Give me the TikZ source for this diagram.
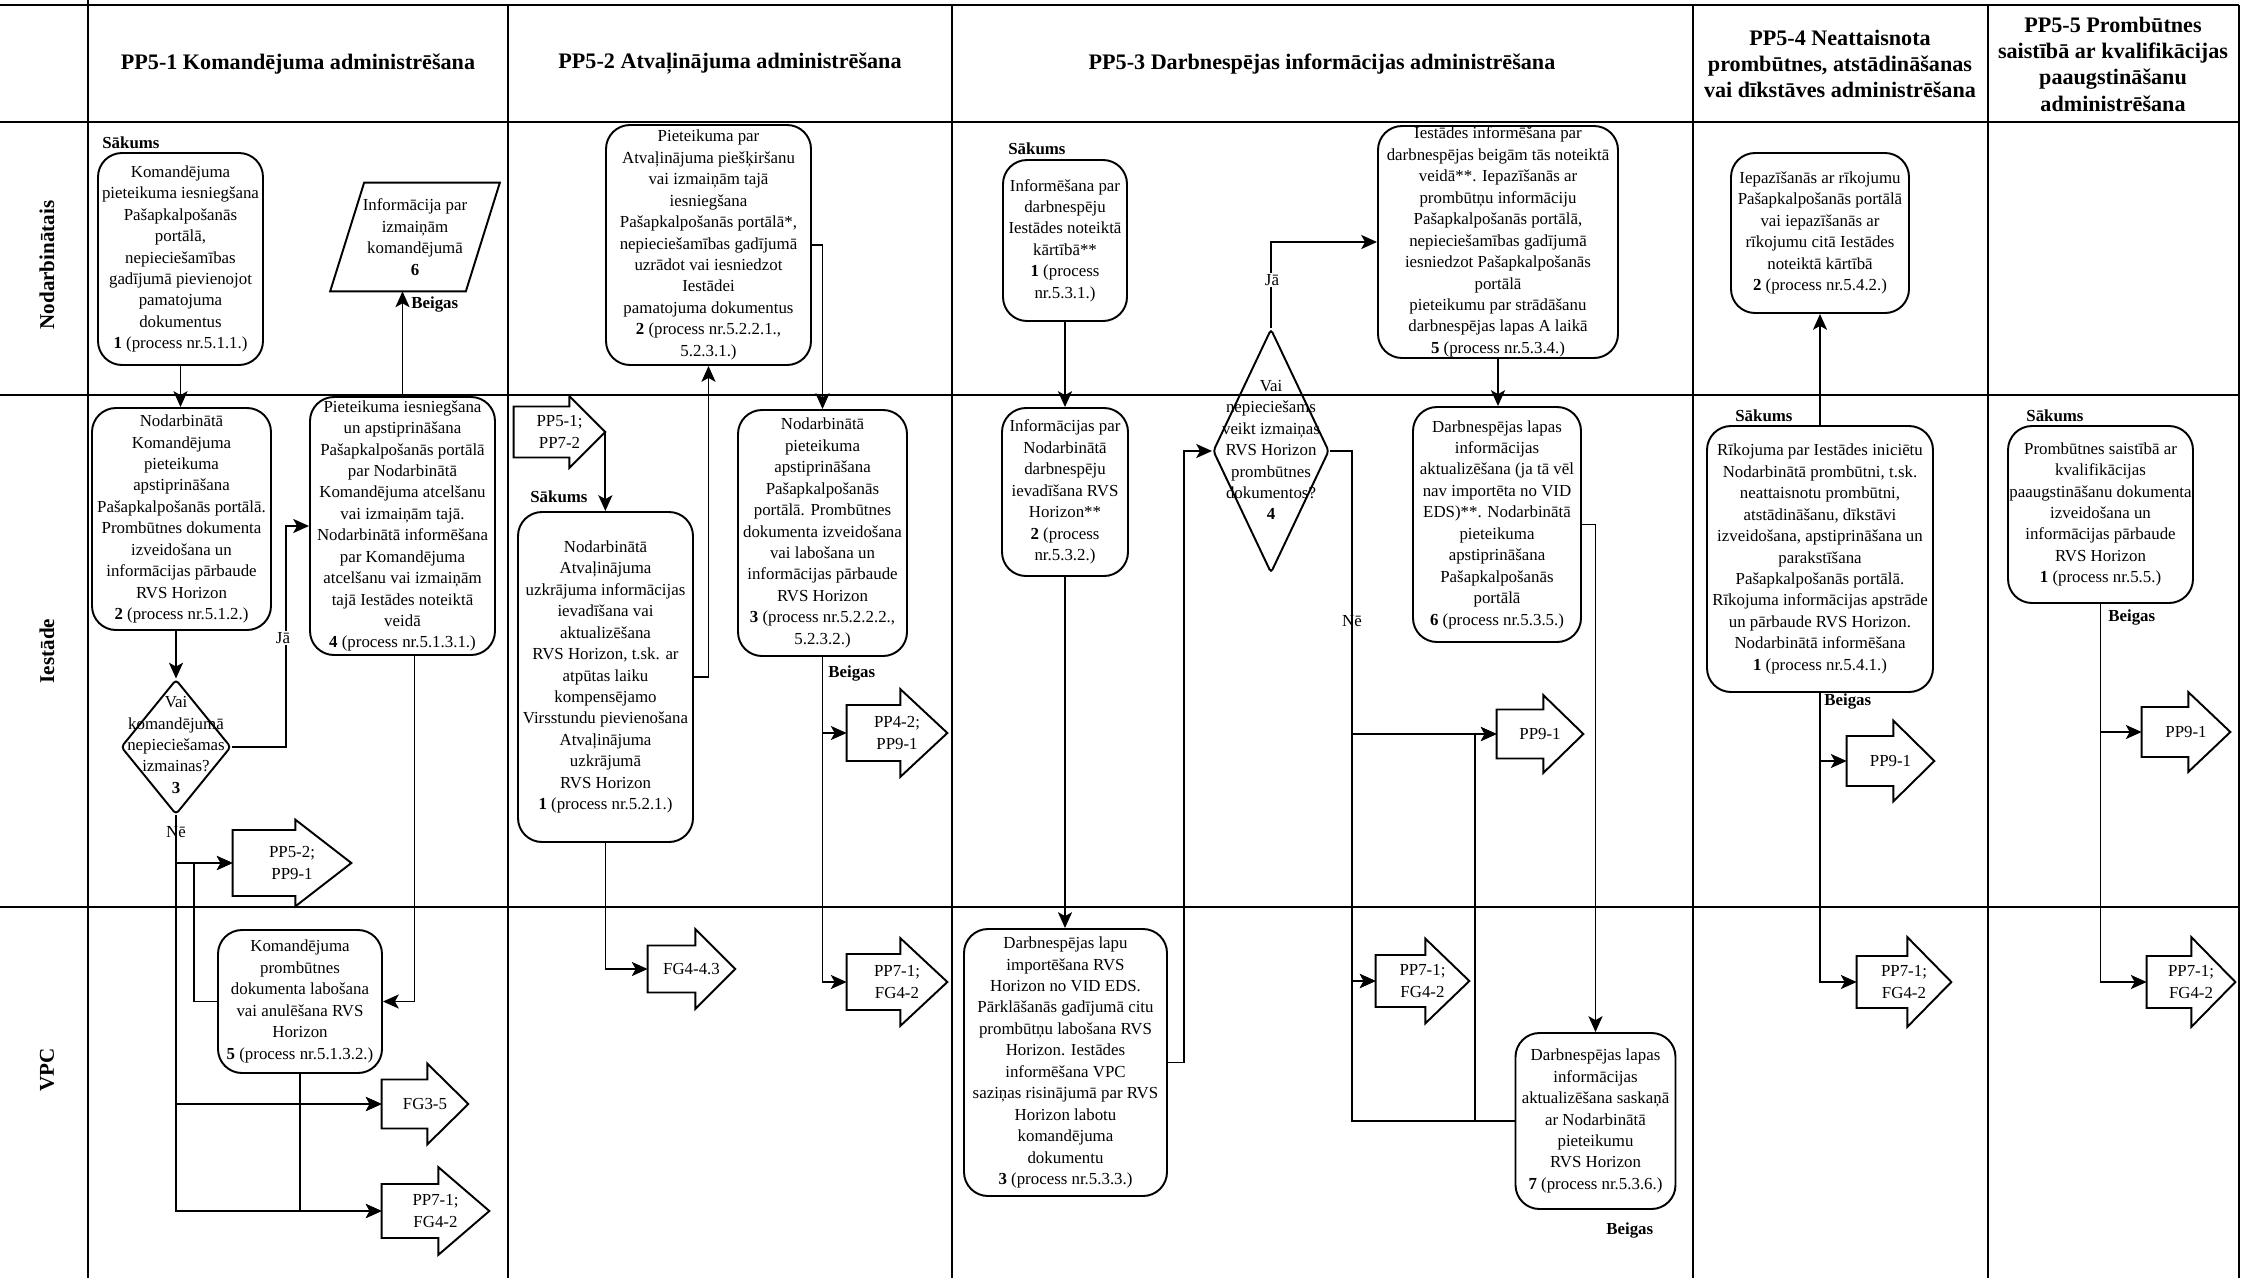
\documentclass[tikz,border=0pt]{standalone}
\usepackage{fontspec}
\setmainfont{Liberation Serif}
\usetikzlibrary{shapes.geometric,arrows.meta,calc}

\newcommand{\pxu}{0.02cm}
\newcommand{\bodyfont}{\fontsize{9.6pt}{12.2pt}\selectfont}
\newcommand{\headfont}{\fontsize{12.6pt}{15pt}\selectfont\bfseries}
\newcommand{\lanefont}{\fontsize{12pt}{14pt}\selectfont\bfseries}

% outline of an off-page arrow drawn round a named node
\newcommand{\offshape}[3]{%
  \draw[shapeline] ($(#1.west)+(0,-#2)$) -- ($(#1.east)+(-#3,-#2)$)
    -- ($(#1.north east)+(-#3,0)$) -- (#1.east)
    -- ($(#1.south east)+(-#3,0)$) -- ($(#1.east)+(-#3,#2)$)
    -- ($(#1.west)+(0,#2)$) -- cycle;}

\tikzset{
  laneline/.style={line width=1.1pt},
  shapeline/.style={line width=1.1pt, line join=miter},
  proc/.style 2 args={draw, line width=1.1pt, rounded corners=0.48cm, inner sep=0pt,
    align=center, font=\bodyfont, minimum width=#1*\pxu, minimum height=#2*\pxu},
  deci/.style 2 args={diamond, draw, line width=1.1pt, rounded corners=2pt, inner sep=0pt,
    minimum width=#1*\pxu, minimum height=#2*\pxu},
  offpage/.style 2 args={rectangle, inner sep=0pt, align=center, font=\bodyfont,
    minimum width=#1*\pxu, minimum height=#2*\pxu},
  txt/.style={align=center, font=\bodyfont, inner sep=0pt},
  colhead/.style={align=center, font=\headfont},
  lanelabel/.style={rotate=90, font=\lanefont},
  tag/.style={font=\bodyfont\bfseries, inner sep=0pt, anchor=west},
  yesno/.style={font=\bodyfont, inner sep=1pt},
  flow/.style={line width=1.1pt, -{Stealth[length=9pt, width=8pt, inset=2.2pt]}},
  link/.style={line width=1.1pt}
}

\begin{document}
\begin{tikzpicture}[x=0.02cm, y=-0.02cm]
    \useasboundingbox (0,0) rectangle (2242,1278);

    % Lanes and columns
    \draw[laneline] (0,5) -- (2239,5);
    \draw[laneline] (0,122) -- (2239,122);
    \draw[laneline] (0,395) -- (2239,395);
    \draw[laneline] (0,907) -- (2239,907);
    \draw[laneline] (88,0) -- (88,1278);
    \foreach \cx in {508,952,1693,1988,2239}
        \draw[laneline] (\cx,5) -- (\cx,1278);

    \node[lanelabel] (l1) at (47,265) {Nodarbinātais};
    \node[lanelabel] (l2) at (47,651) {Iestāde};
    \node[lanelabel] (l3) at (47,1070) {VPC};

    \node[colhead] (h1) at (298,64) {PP5-1 Komandējuma administrēšana};
    \node[colhead] (h2) at (730,64) {PP5-2 Atvaļinājuma administrēšana};
    \node[colhead] (h3) at (1322,64) {PP5-3 Darbnespējas informācijas administrēšana};
    \node[colhead] (h4) at (1840,64) {PP5-4 Neattaisnota\\prombūtnes, atstādināšanas\\vai dīkstāves administrēšana};
    \node[colhead] (h5) at (2113,64) {PP5-5 Prombūtnes\\saistībā ar kvalifikācijas\\paaugstināšanu\\administrēšana};

    % PP5-1
    \node[proc={165}{212}] (n11) at (180.5,259) {Komandējuma\\pieteikuma iesniegšana\\Pašapkalpošanās\\portālā,\\nepieciešamības\\gadījumā pievienojot\\pamatojuma\\dokumentus\\\textbf{1} (process nr.5.1.1.)};
    \node[proc={179}{222}] (n12) at (181.5,519) {Nodarbinātā\\Komandējuma\\pieteikuma\\apstiprināšana\\Pašapkalpošanās portālā.\\Prombūtnes dokumenta\\izveidošana un\\informācijas pārbaude\\RVS Horizon\\\textbf{2} (process nr.5.1.2.)};
    \node[deci={110}{135}] (n13) at (176,747) {};
    \node[txt] (n13t) at (176,745) {Vai\\komandējumā\\nepieciešamas\\izmainas?\\\textbf{3}};
    \node[proc={185}{258}] (n14) at (402.5,526) {Pieteikuma iesniegšana\\un apstiprināšana\\Pašapkalpošanās portālā\\par Nodarbinātā\\Komandējuma atcelšanu\\vai izmaiņām tajā.\\Nodarbinātā informēšana\\par Komandējuma\\atcelšanu vai izmaiņām\\tajā Iestādes noteiktā\\veidā\\\textbf{4} (process nr.5.1.3.1.)};
    \node[proc={164}{143}] (n15) at (300,1001.5) {Komandējuma\\prombūtnes\\dokumenta labošana\\vai anulēšana RVS\\Horizon\\\textbf{5} (process nr.5.1.3.2.)};
    \node[txt, minimum width=135*\pxu, minimum height=108*\pxu] (n16) at (415,237) {Informācija par\\izmaiņām\\komandējumā\\\textbf{6}};
    \draw[shapeline] ($(n16.south west)+(-17,0)$) -- ($(n16.south east)+(-17,0)$)
        -- ($(n16.north east)+(17,0)$) -- ($(n16.north west)+(17,0)$) -- cycle;

    \node[offpage={118}{86}] (g11) at (292,863) {PP5-2;\\PP9-1};
    \offshape{g11}{33}{56}
    \node[offpage={86}{80}] (g12) at (425,1104) {FG3-5};
    \offshape{g12}{24.5}{41}
    \node[offpage={107}{87}] (g13) at (435.5,1211) {PP7-1;\\FG4-2};
    \offshape{g13}{27}{51}

    \draw[flow] (n11.south) -- (n11.south |- n12.north);
    \draw[flow] (n13.north |- n12.south) -- (n13.north);
    \draw[flow] (n13.east) -- ++(54,0) |- (n14.west);
    \draw[flow] (n13.south) |- (g11.west);
    \draw[flow] (n13.south) |- (g12.west);
    \draw[flow] (n13.south) |- (g13.west);
    \draw[flow] (n14.north) -- (n14.north |- n16.south);
    \draw[flow] ($(n14.south)+(12,0)$) |- (n15.east);
    \draw[flow] (n15.west) -- ++(-23,0) |- (g11.west);
    \draw[flow] (n15.south) |- (g12.west);
    \draw[flow] (n15.south) |- (g13.west);

    \node[tag] (sak1) at (102,143) {Sākums};
    \node[tag] (beig1) at (411,305) {Beigas};
    \node[yesno, fill=white] (ja1) at (283,638) {Jā};
    \node[yesno] (ne1) at (176,832) {Nē};

    % PP5-2
    \node[offpage={91}{71}] (g21) at (559.5,432) {PP5-1;\\PP7-2};
    \offshape{g21}{25.5}{36}
    \node[proc={175}{330}] (n21) at (605.5,677) {Nodarbinātā\\Atvaļinājuma\\uzkrājuma informācijas\\ievadīšana vai\\aktualizēšana\\RVS Horizon, t.sk. ar\\atpūtas laiku\\kompensējamo\\Virsstundu pievienošana\\Atvaļinājuma\\uzkrājumā\\RVS Horizon\\\textbf{1} (process nr.5.2.1.)};
    \node[proc={205}{240}] (n22) at (708.5,245) {Pieteikuma par\\Atvaļinājuma piešķiršanu\\vai izmaiņām tajā\\iesniegšana\\Pašapkalpošanās portālā*,\\nepieciešamības gadījumā\\uzrādot vai iesniedzot\\Iestādei\\pamatojuma dokumentus\\\textbf{2} (process nr.5.2.2.1.,\\5.2.3.1.)};
    \node[proc={169}{246}] (n23) at (822.5,533) {Nodarbinātā\\pieteikuma\\apstiprināšana\\Pašapkalpošanās\\portālā. Prombūtnes\\dokumenta izveidošana\\vai labošana un\\informācijas pārbaude\\RVS Horizon\\\textbf{3} (process nr.5.2.2.2.,\\5.2.3.2.)};

    \node[offpage={100}{87}] (g22) at (897,733) {PP4-2;\\PP9-1};
    \offshape{g22}{28}{47}
    \node[offpage={100}{87}] (g23) at (897,982) {PP7-1;\\FG4-2};
    \offshape{g23}{28}{47}
    \node[offpage={87}{79}] (g24) at (691.5,969) {FG4-4.3};
    \offshape{g24}{23.5}{40}

    \draw[flow] (g21.east) -- (g21.east |- n21.north);
    \draw[flow] (n21.east) -| (n22.south);
    \draw[flow] (n22.east) -| (n23.north);
    \draw[flow] (n23.south) |- (g22.west);
    \draw[flow] (n23.south) |- (g23.west);
    \draw[flow] (n21.south) |- (g24.west);

    \node[tag] (sak2) at (530,497) {Sākums};
    \node[tag] (beig2) at (828,673) {Beigas};

    % PP5-3
    \node[proc={124}{161}] (n31) at (1065,240.5) {Informēšana par\\darbnespēju\\Iestādes noteiktā\\kārtībā**\\\textbf{1} (process\\nr.5.3.1.)};
    \node[proc={126}{168}] (n32) at (1065,492) {Informācijas par\\Nodarbinātā\\darbnespēju\\ievadīšana RVS\\Horizon**\\\textbf{2} (process\\nr.5.3.2.)};
    \node[proc={203}{267}] (n33) at (1065.5,1062.5) {Darbnespējas lapu\\importēšana RVS\\Horizon no VID EDS.\\Pārklāšanās gadījumā citu\\prombūtņu labošana RVS\\Horizon. Iestādes\\informēšana VPC\\saziņas risinājumā par RVS\\Horizon labotu\\komandējuma\\dokumentu\\\textbf{3} (process nr.5.3.3.)};
    \node[deci={116}{244}] (n34) at (1271,451) {};
    \node[txt] (n34t) at (1271,450) {Vai\\nepieciešams\\veikt izmaiņas\\RVS Horizon\\prombūtnes\\dokumentos?\\\textbf{4}};
    \node[proc={240}{232}] (n35) at (1498,242) {Iestādes informēšana par\\darbnespējas beigām tās noteiktā\\veidā**. Iepazīšanās ar\\prombūtņu informāciju\\Pašapkalpošanās portālā,\\nepieciešamības gadījumā\\iesniedzot Pašapkalpošanās\\portālā\\pieteikumu par strādāšanu\\darbnespējas lapas A laikā\\\textbf{5} (process nr.5.3.4.)};
    \node[proc={168}{235}] (n36) at (1497,524.5) {Darbnespējas lapas\\informācijas\\aktualizēšana (ja tā vēl\\nav importēta no VID\\EDS)**. Nodarbinātā\\pieteikuma\\apstiprināšana\\Pašapkalpošanās\\portālā\\\textbf{6} (process nr.5.3.5.)};
    \node[proc={160}{176}] (n37) at (1595.5,1121) {Darbnespējas lapas\\informācijas\\aktualizēšana saskaņā\\ar Nodarbinātā\\pieteikumu\\RVS Horizon\\\textbf{7} (process nr.5.3.6.)};

    \node[offpage={86}{77}] (g31) at (1540,734) {PP9-1};
    \offshape{g31}{24.5}{40}
    \node[offpage={93}{84}] (g32) at (1422.5,981) {PP7-1;\\FG4-2};
    \offshape{g32}{26}{44}

    \draw[flow] (n31.south) -- (n31.south |- n32.north);
    \draw[flow] (n32.south) -- (n32.south |- n33.north);
    \draw[flow] (n33.east) -- ++(16,0) |- (n34.west);
    \draw[flow] (n34.north) |- (n35.west);
    \draw[flow] (n35.south) -- (n35.south |- n36.north);
    \draw[flow] (n36.east) -| (n37.north);
    \coordinate (nebr) at ($(n34.east)+(22,0)$);
    \draw[flow] (n34.east) -- (nebr) |- (g31.west);
    \draw[flow] (nebr) |- (g32.west);
    \draw[flow] (n37.west) -- ++(-40,0) |- (g31.west);
    \draw[flow] (n37.west) -- (n37.west -| nebr) |- (g32.west);

    \node[tag] (sak3) at (1008,149) {Sākums};
    \node[tag] (beig3) at (1606,1230) {Beigas};
    \node[yesno, fill=white] (ja3) at (1272,280) {Jā};
    \node[yesno] (ne3) at (1352,621) {Nē};

    % PP5-4
    \node[proc={226}{266}] (n41) at (1820,559) {Rīkojuma par Iestādes iniciētu\\Nodarbinātā prombūtni, t.sk.\\neattaisnotu prombūtni,\\atstādināšanu, dīkstāvi\\izveidošana, apstiprināšana un\\parakstīšana\\Pašapkalpošanās portālā.\\Rīkojuma informācijas apstrāde\\un pārbaude RVS Horizon.\\Nodarbinātā informēšana\\\textbf{1} (process nr.5.4.1.)};
    \node[proc={178}{160}] (n42) at (1820,233) {Iepazīšanās ar rīkojumu\\Pašapkalpošanās portālā\\vai iepazīšanās ar\\rīkojumu citā Iestādes\\noteiktā kārtībā\\\textbf{2} (process nr.5.4.2.)};

    \node[offpage={87}{80}] (g41) at (1890.5,761) {PP9-1};
    \offshape{g41}{25}{41}
    \node[offpage={94}{89}] (g42) at (1904,982) {PP7-1;\\FG4-2};
    \offshape{g42}{26}{44}

    \draw[flow] (n41.north) -- (n42.south);
    \draw[flow] (n41.south) |- (g41.west);
    \draw[flow] (n41.south) |- (g42.west);

    \node[tag] (sak4) at (1735,416) {Sākums};
    \node[tag] (beig4) at (1824,702) {Beigas};

    % PP5-5
    \node[proc={185}{177}] (n51) at (2100.5,514.5) {Prombūtnes saistībā ar\\kvalifikācijas\\paaugstināšanu dokumenta\\izveidošana un\\informācijas pārbaude\\RVS Horizon\\\textbf{1} (process nr.5.5.)};

    \node[offpage={88}{79}] (g51) at (2186,732) {PP9-1};
    \offshape{g51}{25}{42}
    \node[offpage={88}{89}] (g52) at (2191,982) {PP7-1;\\FG4-2};
    \offshape{g52}{26}{44}

    \draw[flow] (n51.south) |- (g51.west);
    \draw[flow] (n51.south) |- (g52.west);

    \node[tag] (sak5) at (2026,416) {Sākums};
    \node[tag] (beig5) at (2108,618) {Beigas};

\end{tikzpicture}
\end{document}
